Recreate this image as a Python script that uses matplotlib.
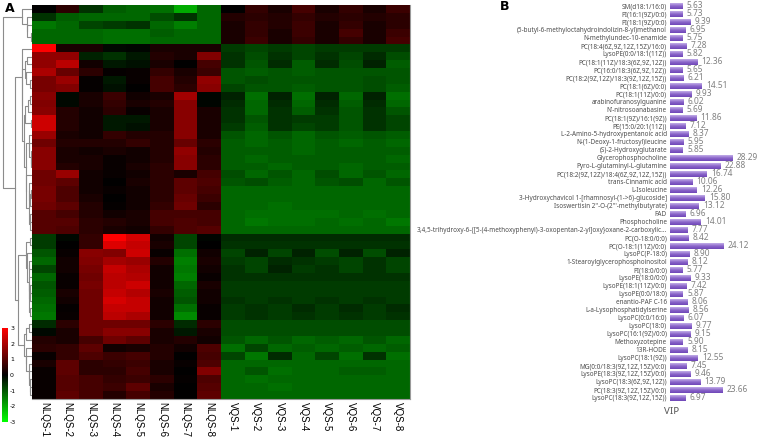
import numpy as np
import matplotlib
matplotlib.use("Agg")
import matplotlib.pyplot as plt
from matplotlib.colors import LinearSegmentedColormap
from matplotlib.cm import ScalarMappable
from matplotlib.colors import Normalize

plt.rcParams["axes.unicode_minus"] = False

# ---- data -------------------------------------------------------------------
samples = ["NLQS-1", "NLQS-2", "NLQS-3", "NLQS-4", "NLQS-5", "NLQS-6", "NLQS-7", "NLQS-8",
           "VQS-1", "VQS-2", "VQS-3", "VQS-4", "VQS-5", "VQS-6", "VQS-7", "VQS-8"]

# z-scores per metabolite (rows in heatmap order), NLQS group
nlqs_vals = [
    [0.0, 0.5, -0.6, -1.1, -1.2, -1.3, -2.0, -1.2],
    [-0.6, -1.1, -1.2, -1.2, -1.2, -0.9, -0.6, -1.2],
    [-1.4, -1.2, -0.8, -0.7, -0.6, -1.2, -1.5, -1.2],
    [-1.2, -1.2, -1.2, -1.3, -1.3, -1.1, -1.2, -1.2],
    [-1.2, -1.2, -1.2, -1.3, -1.3, -1.2, -1.2, -1.2],
    [3.0, 0.3, 0.3, -0.1, -0.05, 0.3, 0.3, 0.3],
    [1.7, 1.7, -0.4, -0.6, -0.3, 0.4, 0.3, 1.5],
    [1.7, 2.2, 0.2, -0.3, -0.2, 0.3, 0.0, 0.8],
    [2.0, 1.2, 0.5, 0.05, 0.1, 0.6, 0.3, 0.7],
    [1.4, 1.8, 0.05, -0.3, 0.1, 0.8, 0.4, 1.7],
    [1.4, 1.5, 0.05, -0.2, 0.0, 0.8, 0.5, 1.6],
    [1.6, -0.1, 0.3, 0.7, 0.2, 0.3, 1.9, -0.05],
    [1.5, -0.1, 0.3, 0.6, 0.3, 0.4, 1.6, -0.05],
    [1.6, 0.4, 0.2, 0.5, 0.1, 0.3, 1.6, 0.3],
    [2.4, 0.4, 0.2, -0.3, -0.3, 0.3, 1.6, 0.3],
    [2.4, 0.4, 0.2, -0.3, -0.2, 0.3, 1.6, 0.3],
    [1.8, 0.3, 0.2, 0.6, 0.4, 0.4, 1.6, 0.3],
    [1.3, 0.4, 0.4, 0.4, 0.6, 0.4, 1.2, 0.5],
    [1.6, 0.3, 0.2, 0.3, 0.2, 0.4, 1.7, 0.4],
    [1.6, 0.3, 0.3, 0.1, 0.2, 0.4, 1.6, 0.5],
    [1.6, 0.4, 0.3, 0.1, 0.3, 0.5, 1.6, 0.5],
    [1.3, 1.8, 0.2, 0.1, 0.2, 0.5, 0.3, 0.8],
    [1.3, 1.1, 0.2, 0.0, 0.3, 0.5, 1.1, 0.9],
    [1.4, 0.9, 0.2, 0.1, 0.2, 0.5, 1.1, 0.8],
    [1.4, 0.9, 0.3, 0.0, 0.2, 0.5, 1.2, 0.7],
    [1.3, 1.1, 0.4, 0.05, 0.2, 0.6, 1.3, 0.5],
    [1.0, 0.8, 0.4, 0.2, 0.3, 0.8, 0.8, 0.8],
    [1.0, 1.0, 0.5, 0.4, 0.3, 0.8, 0.9, 0.8],
    [1.0, 0.9, 0.5, 0.3, 0.2, 0.6, 0.9, 1.0],
    [-0.7, -0.1, 0.6, 3.0, 2.5, 0.2, -0.8, -0.05],
    [-0.7, 0.0, 0.6, 2.6, 2.3, 0.3, -0.8, 0.0],
    [-1.0, 0.1, 1.6, 1.5, 2.4, 0.1, -1.3, 0.2],
    [-1.2, 0.2, 1.5, 1.9, 1.8, 0.4, -1.5, 0.3],
    [-0.8, 0.2, 1.4, 2.3, 2.0, 0.2, -1.4, 0.2],
    [-1.2, 0.1, 1.3, 2.2, 2.1, 0.2, -1.5, 0.1],
    [-1.0, 0.1, 1.4, 2.2, 2.4, 0.2, -1.2, 0.3],
    [-1.1, 0.3, 1.3, 2.3, 2.1, 0.3, -1.1, 0.2],
    [-1.2, 0.2, 1.3, 2.5, 2.3, 0.2, -1.0, 0.2],
    [-1.3, 0.05, 1.3, 2.3, 2.3, 0.2, -1.3, 0.1],
    [-1.4, 0.1, 1.3, 2.2, 2.0, 0.2, -1.6, 0.1],
    [-0.5, 0.5, 1.3, 1.3, 1.3, 0.5, -0.5, 0.5],
    [-0.1, 0.3, 1.3, 1.6, 1.6, 0.3, -0.3, 0.3],
    [0.4, 0.3, 0.8, 1.3, 1.1, 0.3, 0.4, 0.2],
    [0.5, 0.6, 1.1, 0.2, 0.3, 0.4, 0.2, 0.9],
    [0.1, 0.6, 0.9, 0.7, 0.8, 0.4, 0.0, 0.8],
    [0.3, 1.1, 0.5, 0.6, 0.7, 0.3, 0.1, 0.9],
    [0.1, 1.1, 0.5, 0.5, 0.8, 0.3, 0.0, 1.5],
    [0.1, 1.0, 0.8, 0.6, 0.7, 0.5, 0.05, 0.9],
    [0.1, 1.0, 0.8, 0.7, 1.1, 0.3, 0.0, 1.0],
    [0.1, 1.1, 0.8, 0.4, 0.8, 0.4, 0.0, 1.1],
]

# VQS group
vqs_vals = [
    [0.0, 0.6, 0.3, 0.8, 0.3, 0.6, 0.3, 0.7],
    [0.4, 0.5, 0.4, 0.6, 0.4, 0.5, 0.4, 0.5],
    [0.3, 0.6, 0.4, 0.7, 0.3, 0.6, 0.3, 0.5],
    [0.3, 0.6, 0.3, 0.7, 0.3, 0.8, 0.3, 0.7],
    [0.3, 0.7, 0.3, 0.6, 0.3, 0.6, 0.3, 0.8],
    [-0.7, -0.8, -0.7, -0.8, -0.7, -0.7, -0.7, -0.7],
    [-0.6, -0.9, -0.6, -0.8, -0.6, -0.8, -0.5, -0.9],
    [-0.6, -1.0, -0.5, -1.1, -0.5, -0.9, -0.4, -1.1],
    [-1.0, -1.1, -1.0, -1.1, -1.0, -1.0, -1.0, -1.0],
    [-1.0, -0.9, -1.0, -1.0, -1.0, -1.0, -0.9, -1.0],
    [-0.8, -1.0, -1.0, -1.1, -1.0, -1.0, -0.9, -1.1],
    [-0.4, -1.3, -0.4, -1.3, -0.4, -1.2, -0.4, -1.3],
    [-0.5, -1.2, -0.5, -1.2, -0.5, -1.1, -0.5, -1.2],
    [-0.6, -1.2, -0.6, -1.1, -0.6, -1.0, -0.6, -1.0],
    [-0.6, -1.0, -0.6, -0.7, -0.7, -1.0, -0.6, -0.8],
    [-0.7, -1.1, -0.6, -0.8, -0.7, -1.0, -0.6, -0.8],
    [-1.0, -1.2, -1.0, -1.2, -1.0, -1.1, -1.0, -1.1],
    [-1.1, -1.2, -1.1, -1.2, -1.1, -1.2, -1.1, -1.2],
    [-1.1, -1.1, -1.1, -1.2, -1.1, -1.1, -1.1, -1.1],
    [-1.1, -1.2, -1.1, -1.1, -1.1, -1.1, -1.1, -1.2],
    [-1.1, -1.1, -1.2, -1.1, -1.1, -1.2, -1.1, -1.1],
    [-0.9, -1.2, -1.0, -1.2, -0.9, -1.2, -1.0, -1.2],
    [-1.0, -0.9, -1.1, -1.2, -1.0, -0.9, -1.2, -1.0],
    [-1.2, -1.2, -1.2, -1.2, -1.2, -1.2, -1.2, -1.2],
    [-1.2, -1.2, -1.2, -1.2, -1.2, -1.2, -1.2, -1.2],
    [-1.2, -1.2, -1.3, -1.2, -1.2, -1.2, -1.2, -1.2],
    [-1.2, -1.3, -1.3, -1.3, -1.3, -1.2, -1.3, -1.2],
    [-1.2, -1.4, -1.3, -1.3, -1.2, -1.3, -1.2, -1.4],
    [-1.2, -1.2, -1.2, -1.2, -1.2, -1.2, -1.2, -1.2],
    [-0.5, -0.5, -0.5, -0.5, -0.5, -0.5, -0.5, -0.5],
    [-0.6, -0.6, -0.6, -0.6, -0.6, -0.6, -0.6, -0.6],
    [-0.8, -0.4, -0.8, -0.4, -0.9, -0.4, -0.9, -0.4],
    [-0.7, -0.8, -0.5, -0.6, -0.7, -0.8, -0.6, -0.8],
    [-0.6, -0.8, -0.4, -0.7, -0.6, -0.8, -0.6, -0.8],
    [-0.6, -0.6, -0.6, -0.6, -0.6, -0.6, -0.6, -0.6],
    [-0.7, -0.7, -0.7, -0.7, -0.7, -0.7, -0.7, -0.7],
    [-0.7, -0.7, -0.7, -0.7, -0.7, -0.7, -0.7, -0.7],
    [-0.6, -0.7, -0.6, -0.7, -0.6, -0.7, -0.6, -0.7],
    [-0.7, -0.6, -0.7, -0.5, -0.7, -0.5, -0.7, -0.5],
    [-0.7, -0.6, -0.7, -0.6, -0.7, -0.6, -0.7, -0.6],
    [-0.9, -0.9, -0.9, -0.9, -0.9, -0.9, -0.9, -0.9],
    [-0.9, -0.9, -0.9, -0.9, -0.9, -0.9, -0.9, -0.9],
    [-1.0, -1.2, -1.0, -1.2, -1.1, -1.2, -1.0, -1.2],
    [-1.3, -0.8, -1.2, -1.1, -1.2, -1.1, -1.2, -1.1],
    [-0.8, -1.4, -0.5, -1.2, -0.8, -1.3, -0.6, -1.3],
    [-1.2, -1.2, -1.2, -1.2, -1.2, -1.2, -1.2, -1.2],
    [-1.2, -1.0, -1.3, -1.2, -1.2, -1.1, -1.1, -1.2],
    [-1.2, -1.3, -1.2, -1.2, -1.2, -1.2, -1.2, -1.2],
    [-1.2, -1.2, -1.3, -1.2, -1.2, -1.2, -1.2, -1.2],
    [-1.2, -1.2, -1.2, -1.2, -1.2, -1.2, -1.2, -1.2],
]

metabolites = [
    "SM(d18:1/16:0)", "PI(16:1(9Z)/0:0)", "PI(18:1(9Z)/0:0)",
    "(5-butyl-6-methyloctahydroindolizin-8-yl)methanol", "N-methylundec-10-enamide",
    "PC(18:4(6Z,9Z,12Z,15Z)/16:0)", "LysoPE(0:0/18:1(11Z))",
    "PC(18:1(11Z)/18:3(6Z,9Z,12Z))", "PC(16:0/18:3(6Z,9Z,12Z))",
    "PC(18:2(9Z,12Z)/18:3(9Z,12Z,15Z))", "PC(18:1(6Z)/0:0)", "PC(18:1(11Z)/0:0)",
    "arabinofuranosylguanine", "N'-nitrosoanabasine", "PC(18:1(9Z)/16:1(9Z))",
    "PE(15:0/20:1(11Z))", "L-2-Amino-5-hydroxypentanoic acid",
    "N-(1-Deoxy-1-fructosyl)leucine", "(S)-2-Hydroxyglutarate", "Glycerophosphocholine",
    "Pyro-L-glutaminyl-L-glutamine", "PC(18:2(9Z,12Z)/18:4(6Z,9Z,12Z,15Z))",
    "trans-Cinnamic acid", "L-Isoleucine",
    "3-Hydroxychavicol 1-[rhamnosyl-(1->6)-glucoside]",
    "Isoswertisin 2''-O-(2'''-methylbutyrate)", "FAD", "Phosphocholine",
    "3,4,5-trihydroxy-6-{[5-(4-methoxyphenyl)-3-oxopentan-2-yl]oxy}oxane-2-carboxylic...",
    "PC(O-18:0/0:0)", "PC(O-18:1(11Z)/0:0)", "LysoPC(P-18:0)",
    "1-Stearoylglycerophosphoinositol", "PI(18:0/0:0)", "LysoPE(18:0/0:0)",
    "LysoPE(18:1(11Z)/0:0)", "LysoPE(0:0/18:0)", "enantio-PAF C-16",
    "L-a-Lysophosphatidylserine", "LysoPC(0:0/16:0)", "LysoPC(18:0)",
    "LysoPC(16:1(9Z)/0:0)", "Methoxyzotepine", "13R-HODE", "LysoPC(18:1(9Z))",
    "MG(0:0/18:3(9Z,12Z,15Z)/0:0)", "LysoPE(18:3(9Z,12Z,15Z)/0:0)",
    "LysoPC(18:3(6Z,9Z,12Z))", "PC(18:3(9Z,12Z,15Z)/0:0)", "LysoPC(18:3(9Z,12Z,15Z))",
]

vip = [5.63, 5.73, 9.39, 6.95, 5.75, 7.28, 5.82, 12.36, 5.65, 6.21, 14.51, 9.93,
       6.02, 5.69, 11.86, 7.12, 8.37, 5.95, 5.85, 28.29, 22.88, 16.74, 10.06, 12.26,
       15.80, 13.12, 6.96, 14.01, 7.77, 8.42, 24.12, 8.90, 8.12, 5.77, 9.33, 7.42,
       5.87, 8.06, 8.56, 6.07, 9.77, 9.15, 5.90, 8.15, 12.55, 7.45, 9.46, 13.79,
       23.66, 6.97]

# ---- layout (pixel boxes) ---------------------------------------------------
W, H = 758, 438


def box(x0, y0, x1, y1):
    return [x0 / W, 1 - y1 / H, (x1 - x0) / W, (y1 - y0) / H]


fig = plt.figure(figsize=(W / 100, H / 100), dpi=100)
ax_hm = fig.add_axes(box(32, 5.4, 410, 399))
ax_dn = fig.add_axes(box(0, 5.4, 32, 399))
cax = fig.add_axes(box(2, 328, 8, 422))
ax_b = fig.add_axes(box(670, 2, 758, 402))

# ---- heatmap ----------------------------------------------------------------
heat = np.hstack([np.array(nlqs_vals), np.array(vqs_vals)])
cmap = LinearSegmentedColormap.from_list("gkr", ["#00ff00", "#000000", "#ff0000"])
ax_hm.imshow(heat, cmap=cmap, vmin=-3, vmax=3, aspect="auto", interpolation="nearest")
ax_hm.set_xticks(range(len(samples)))
ax_hm.set_xticklabels(samples, rotation=270, fontsize=7, family="Liberation Sans")
ax_hm.set_yticks([])
ax_hm.tick_params(axis="x", length=0, pad=2)
for side in ["top", "left"]:
    ax_hm.spines[side].set_visible(False)
for side in ["bottom", "right"]:
    ax_hm.spines[side].set_color("#9a9a9a")
    ax_hm.spines[side].set_linewidth(0.8)


# ---- row dendrogram (order-preserving average linkage) ---------------------
def adjacent_linkage(data):
    clusters = [dict(members=[i], pos=float(i), h=0.0) for i in range(len(data))]
    links = []
    while len(clusters) > 1:
        best = None
        for k in range(len(clusters) - 1):
            a, b = clusters[k], clusters[k + 1]
            d = np.mean([np.linalg.norm(data[i] - data[j])
                         for i in a["members"] for j in b["members"]])
            if best is None or d < best[0]:
                best = (d, k)
        d, k = best
        a, b = clusters[k], clusters[k + 1]
        h = max(d, a["h"], b["h"])
        links.append((a["pos"], a["h"], b["pos"], b["h"], h))
        clusters[k:k + 2] = [dict(members=a["members"] + b["members"],
                                  pos=(a["pos"] + b["pos"]) / 2, h=h)]
    return links


links = adjacent_linkage(heat)
for y1, h1, y2, h2, h in links:
    ax_dn.plot([h1, h, h, h2], [y1, y1, y2, y2], color="#8c8c8c", lw=0.8)
root = max(l[4] for l in links)
ax_dn.set_xlim(root * 32 / 29, 0)
ax_dn.set_ylim(len(heat) - 0.5, -0.5)
ax_dn.axis("off")

# ---- colour key ------------------------------------------------------------
sm = ScalarMappable(norm=Normalize(-3, 3), cmap=cmap)
cb = fig.colorbar(sm, cax=cax, ticks=[3, 2, 1, 0, -1, -2, -3])
cb.outline.set_visible(False)
cax.tick_params(length=0, labelsize=4.5, pad=1.5)
cax.set_zorder(5)

# ---- VIP bars ----------------------------------------------------------------
ypos = np.arange(len(vip))
bars = ax_b.barh(ypos, vip, height=0.7, color="#8a64c8")
purple = LinearSegmentedColormap.from_list("pp", ["#c2ade8", "#8b66ca", "#6f47b8"])
grad = np.linspace(0, 1, 32).reshape(-1, 1)
for b in bars:
    x0, y0, w, hh = b.get_x(), b.get_y(), b.get_width(), b.get_height()
    ax_b.imshow(grad, cmap=purple, aspect="auto", interpolation="bilinear",
                extent=[x0, x0 + w, y0 + hh, y0], zorder=3)
for y, v in zip(ypos, vip):
    ax_b.annotate(f"{v:.2f}", (v, y), xytext=(3, 0), textcoords="offset points",
                  va="center", ha="left", fontsize=6, color="#808080",
                  family="Noto Sans", annotation_clip=False)
ax_b.set_ylim(len(vip) - 0.5, -0.5)
ax_b.set_xlim(0, 40)
ax_b.set_yticks(ypos)
ax_b.set_yticklabels(metabolites, fontsize=4.6, color="#4d4d4d", family="Noto Sans")
ax_b.set_xticks([])
ax_b.tick_params(axis="y", length=0, pad=2.2)
for s in ax_b.spines.values():
    s.set_visible(False)
ax_b.patch.set_alpha(0)

fig.text(672 / W, 1 - 412 / H, "VIP", ha="center", va="center", fontsize=7,
         color="#555555", family="Noto Sans")
fig.text(5 / W, 1 - 8 / H, "A", ha="left", va="center", fontsize=9, fontweight="bold")
fig.text(500 / W, 1 - 7 / H, "B", ha="left", va="center", fontsize=9, fontweight="bold")

fig.savefig("out.png", dpi=100)
